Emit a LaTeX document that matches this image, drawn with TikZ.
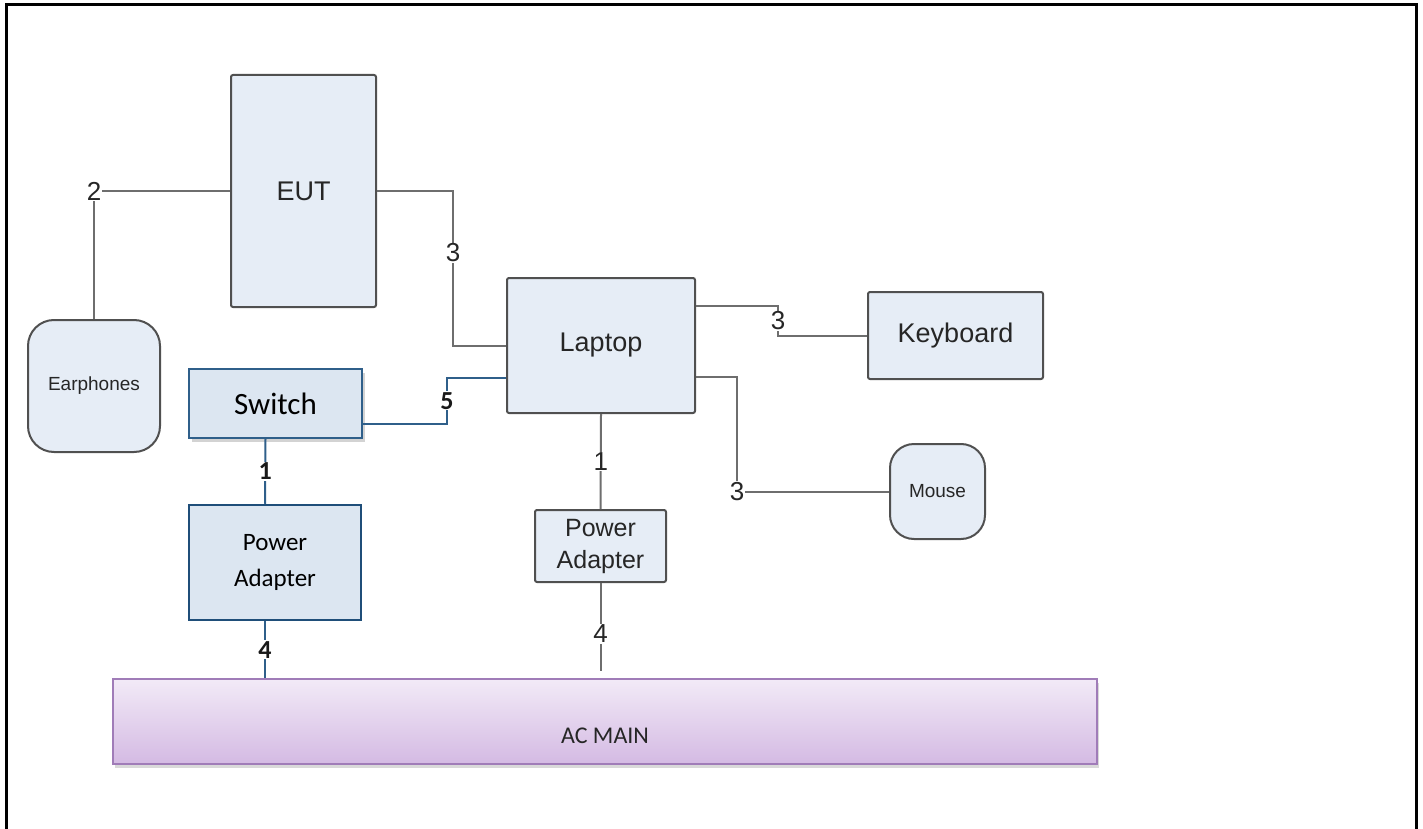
\documentclass[tikz,border=0pt]{standalone}
\usepackage{fontspec}
\setmainfont{Liberation Sans}
\newfontfamily\calib{Carlito}
\usetikzlibrary{shadows,calc}
\definecolor{boxfill}{HTML}{E6EDF6}
\definecolor{boxline}{HTML}{505050}
\definecolor{wiregray}{HTML}{6E6E6E}
\definecolor{bluefill}{HTML}{DCE6F1}
\definecolor{blueline}{HTML}{2F5F8A}
\definecolor{darkblue}{HTML}{1F4E79}
\definecolor{actop}{HTML}{F2EAF7}
\definecolor{acbot}{HTML}{D4BAE3}
\definecolor{acline}{HTML}{A07CB8}
\newcommand{\fs}[1]{\fontsize{#1}{#1}\selectfont}
\begin{document}
\begin{tikzpicture}[x=1pt,y=-1pt,
  graybox/.style={draw=boxline,fill=boxfill,line width=2pt,rounded corners=2pt,inner sep=0pt,align=center,text=black!85},
  roundbox/.style={graybox,rounded corners=26pt},
  bluebase/.style={draw=blueline,fill=bluefill,line width=1.5pt,inner sep=0pt,align=center},
  bluebox/.style={bluebase,drop shadow={shadow xshift=3pt,shadow yshift=-4pt,opacity=0.35}},
  wire/.style={draw=wiregray,line width=2pt},
  bluewire/.style={draw=blueline,line width=2pt},
  lbl/.style={fill=white,inner sep=1pt,font=\fs{26},text=black!85},
  blbl/.style={fill=white,inner sep=1pt,font=\calib\bfseries\fs{26},text=black!90},
]
\useasboundingbox (0,0) rectangle (1423,829);
\draw[line width=3pt] (6,830) -- (6,5) -- (1416,5) -- (1416,830);

% nodes
\node[graybox,minimum width=145pt,minimum height=232pt,font=\fs{27}] (eut) at (303.5,191) {EUT};
\node[roundbox,minimum width=132pt,minimum height=132pt,font=\fs{19}] (earph) at (94,386) {Earphones};
\node[graybox,minimum width=188pt,minimum height=135pt,font=\fs{27}] (laptop) at (601,345.5) {Laptop};
\node[graybox,minimum width=175pt,minimum height=87pt,font=\fs{27}] (kbd) at (955.5,335.5) {Keyboard};
\node[roundbox,rounded corners=24pt,minimum width=95pt,minimum height=95pt,font=\fs{19}] (mouse) at (937.5,491.5) {Mouse};
\node[bluebox,minimum width=173pt,minimum height=69pt,font=\calib\fs{31}] (switch) at (275.5,403.5) {Switch};
\node[bluebase,draw=darkblue,line width=2.5pt,minimum width=172pt,minimum height=115pt,font=\calib\fs{25}] (pa1) at (275,562.5) {Power\\[11pt]Adapter};
\node[graybox,minimum width=131pt,minimum height=72pt,font=\fs{25}] (pa2) at (600.5,546) {Power\\[7pt]Adapter};
\node[draw=acline,line width=2pt,top color=actop,bottom color=acbot,minimum width=984pt,minimum height=85pt,
  drop shadow={shadow xshift=2pt,shadow yshift=-4pt,opacity=0.3},inner sep=0pt] (ac) at (605,721.5) {};
\node[font=\calib\fs{24},text=black!85] (actext) at (605,736) {AC MAIN};

% connectors
\draw[wire] (eut.west) -- (earph.north |- eut.west) node[lbl]{2} -- (earph.north);
\draw[wire] (eut.east) -- ++(76,0) |- node[lbl,pos=0.2]{3} (laptop.west);
\draw[wire] ([yshift=-29pt]laptop.north east) -| (778,321) node[lbl]{3} |- (kbd.west);
\draw[wire] ([yshift=-100pt]laptop.north east) -| ($(mouse.west)+(-152,0)$) node[lbl]{3} -- (mouse.west);
\draw[wire] (laptop.south) -- node[lbl]{1} (pa2.north);
\draw[wire] (pa2.south) -- node[lbl,pos=0.58]{4} ($(pa2.south |- ac.north)+(0,-7)$);
\draw[bluewire] ([yshift=-20pt]switch.east) -| node[blbl,pos=0.75]{5} ([xshift=-59pt,yshift=-32.5pt]laptop.west) -- ([yshift=-32.5pt]laptop.west);
\draw[bluewire] ([xshift=-10pt]switch.south) -- node[blbl]{1} ([xshift=-10pt]pa1.north);
\draw[bluewire] ([xshift=-10pt]pa1.south) -- node[blbl]{4} ([xshift=-10pt]pa1.south |- ac.north);
\end{tikzpicture}
\end{document}
